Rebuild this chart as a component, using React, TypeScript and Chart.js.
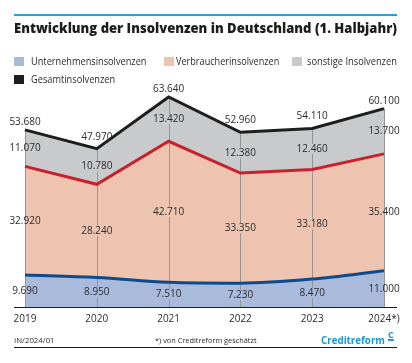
import React, { useEffect, useLayoutEffect, useRef } from "react";
import { Chart, registerables } from "chart.js";

Chart.register(...registerables);

const years = ["2019", "2020", "2021", "2022", "2023", "2024*)"];
const unternehmen = [9690, 8950, 7510, 7230, 8470, 11000];
const verbraucher = [32920, 28240, 42710, 33350, 33180, 35400];
const sonstige = [11070, 10780, 13420, 12380, 12460, 13700];
const gesamt = [53680, 47970, 63640, 52960, 54110, 60100];

const BLUE_FILL = "#a9badb";
const BLUE_LINE = "#0d4a8c";
const SALMON_FILL = "#eec4b1";
const RED_LINE = "#c9212b";
const GREY_FILL = "#c9cacc";
const BLACK = "#1d1d1b";
const CYAN = "#1ea6dc";
const TEXT = "#2b2b2b";
const FONT = "'Open Sans', 'Noto Sans', sans-serif";

const fmt = (n: number) => String(n).replace(/\B(?=(\d{3})+(?!\d))/g, ".");

function FitText(props: {
  text: string;
  left: number;
  top: number;
  width: number;
  size: number;
  weight?: number | string;
  color?: string;
}) {
  const ref = useRef<HTMLSpanElement>(null);
  useLayoutEffect(() => {
    const el = ref.current;
    if (!el) return;
    el.style.transform = "none";
    const w = el.offsetWidth;
    if (w > 0) el.style.transform = `scaleX(${props.width / w})`;
  });
  return (
    <span
      ref={ref}
      style={{
        position: "absolute",
        left: props.left,
        top: props.top,
        fontFamily: FONT,
        fontSize: props.size,
        lineHeight: `${props.size}px`,
        fontWeight: props.weight ?? 400,
        color: props.color ?? TEXT,
        whiteSpace: "nowrap",
        transformOrigin: "0 0",
        display: "inline-block",
      }}
    >
      {props.text}
    </span>
  );
}

function Square(props: { left: number; top: number; color: string }) {
  return (
    <div
      style={{
        position: "absolute",
        left: props.left,
        top: props.top,
        width: 10,
        height: 9,
        background: props.color,
      }}
    />
  );
}

export default function App() {
  const canvasRef = useRef<HTMLCanvasElement>(null);

  useEffect(() => {
    const canvas = canvasRef.current;
    if (!canvas) return;

    const labelsPlugin = {
      id: "customLabels",
      beforeDatasetsDraw(chart: any) {
        const { ctx, chartArea, scales } = chart;
        const x = scales.x;
        const y = scales.y;
        ctx.save();
        ctx.strokeStyle = "#959595";
        ctx.lineWidth = 1;
        for (let i = 0; i < years.length; i++) {
          const px = Math.round(x.getPixelForValue(i)) + 0.5;
          const total = unternehmen[i] + verbraucher[i] + sonstige[i];
          ctx.beginPath();
          ctx.moveTo(px, y.getPixelForValue(total));
          ctx.lineTo(px, chartArea.bottom);
          ctx.stroke();
        }
        ctx.restore();
      },
      afterDatasetsDraw(chart: any) {
        const { ctx, chartArea, scales } = chart;
        const x = scales.x;
        const y = scales.y;
        ctx.save();
        // axis line
        ctx.strokeStyle = BLACK;
        ctx.lineWidth = 1;
        ctx.beginPath();
        ctx.moveTo(14, Math.round(chartArea.bottom) + 0.5);
        ctx.lineTo(397, Math.round(chartArea.bottom) + 0.5);
        ctx.stroke();

        ctx.font = `500 10px ${FONT}`;
        ctx.textAlign = "center";
        ctx.textBaseline = "middle";
        const drawLabel = (txt: string, px: number, py: number, bg: string | null) => {
          if (bg) {
            const w = ctx.measureText(txt).width;
            let l = px - w / 2 - 1;
            let r = px + w / 2 + 1;
            l = Math.max(l, chartArea.left + 1);
            r = Math.min(r, chartArea.right - 1);
            ctx.fillStyle = bg;
            ctx.fillRect(l, py - 5, r - l, 10);
          }
          ctx.fillStyle = TEXT;
          ctx.fillText(txt, px, py);
        };
        const totals = unternehmen.map((u, i) => u + verbraucher[i] + sonstige[i]);
        for (let i = 0; i < years.length; i++) {
          const px = x.getPixelForValue(i);
          const yb = y.getPixelForValue(unternehmen[i]);
          const yr = y.getPixelForValue(unternehmen[i] + verbraucher[i]);
          const yt = y.getPixelForValue(totals[i]);
          const higherNeighbour =
            (i > 0 && totals[i - 1] > totals[i]) ||
            (i < totals.length - 1 && totals[i + 1] > totals[i]);
          const off = higherNeighbour ? 12 : 8;
          drawLabel(fmt(unternehmen[i]), px, (yb + chartArea.bottom) / 2, BLUE_FILL);
          drawLabel(fmt(verbraucher[i]), px, (yr + yb) / 2, SALMON_FILL);
          drawLabel(fmt(sonstige[i]), px, (yt + yr) / 2, GREY_FILL);
          drawLabel(fmt(gesamt[i]), px, yt - off, null);
          ctx.fillStyle = TEXT;
          ctx.fillText(years[i], px, chartArea.bottom + 12);
        }
        ctx.restore();
      },
    };

    const chart = new Chart(canvas, {
      type: "line",
      data: {
        labels: years,
        datasets: [
          {
            label: "Unternehmensinsolvenzen",
            data: unternehmen,
            borderColor: BLUE_LINE,
            backgroundColor: BLUE_FILL,
            borderWidth: 3,
            fill: "origin",
            pointRadius: 0,
            cubicInterpolationMode: "monotone",
          },
          {
            label: "Verbraucherinsolvenzen",
            data: verbraucher,
            borderColor: RED_LINE,
            backgroundColor: SALMON_FILL,
            borderWidth: 3,
            fill: "-1",
            pointRadius: 0,
            tension: 0,
          },
          {
            label: "sonstige Insolvenzen",
            data: sonstige,
            borderColor: BLACK,
            backgroundColor: GREY_FILL,
            borderWidth: 3,
            fill: "-1",
            pointRadius: 0,
            tension: 0,
          },
        ],
      },
      options: {
        animation: false,
        responsive: false,
        maintainAspectRatio: false,
        layout: { padding: { left: 25, right: 28, top: 76, bottom: 56 } },
        scales: {
          x: { display: false, offset: false },
          y: { display: false, stacked: true, min: 0, max: 70000 },
        },
        plugins: {
          legend: { display: false },
          title: { display: false },
          tooltip: { enabled: false },
          filler: { drawTime: "beforeDatasetsDraw" },
        } as any,
      },
      plugins: [labelsPlugin],
    });
    return () => chart.destroy();
  }, []);

  return (
    <div
      style={{
        position: "fixed",
        left: 0,
        top: 0,
        width: 412,
        height: 363,
        background: "#ffffff",
        overflow: "hidden",
      }}
    >
      <canvas
        ref={canvasRef}
        width={412}
        height={363}
        style={{ position: "absolute", left: 0, top: 0, width: 412, height: 363 }}
      />
      <div style={{ position: "absolute", left: 14, top: 14, width: 383, height: 2, background: CYAN }} />
      <FitText
        text="Entwicklung der Insolvenzen in Deutschland (1. Halbjahr)"
        left={14}
        top={21}
        width={383}
        size={14}
        weight={800}
        color={BLACK}
      />
      <Square left={14} top={57} color={BLUE_FILL} />
      <FitText text="Unternehmensinsolvenzen" left={31} top={56} width={115} size={10} />
      <Square left={164} top={57} color={SALMON_FILL} />
      <FitText text="Verbraucherinsolvenzen" left={176} top={56} width={103} size={10} />
      <Square left={292} top={57} color={GREY_FILL} />
      <FitText text="sonstige Insolvenzen" left={307} top={56} width={90} size={10} />
      <Square left={14} top={75} color={BLACK} />
      <FitText text="Gesamtinsolvenzen" left={31} top={74} width={84} size={10} />

      <FitText text="IN/2024/01" left={14} top={336} width={41} size={8} />
      <FitText text="*) von Creditreform geschätzt" left={155} top={336} width={102} size={8} />
      <FitText text="Creditreform" left={321} top={334} width={64} size={11} weight={700} color="#1b9ad6" />
      <span
        style={{
          position: "absolute",
          left: 388,
          top: 330,
          fontFamily: FONT,
          fontSize: 9,
          lineHeight: "9px",
          fontWeight: 700,
          color: "#1b9ad6",
          textDecoration: "underline",
          textDecorationThickness: "1.5px",
        }}
      >
        C
      </span>
      <div style={{ position: "absolute", left: 14, top: 347, width: 383, height: 1, background: BLACK }} />
    </div>
  );
}
